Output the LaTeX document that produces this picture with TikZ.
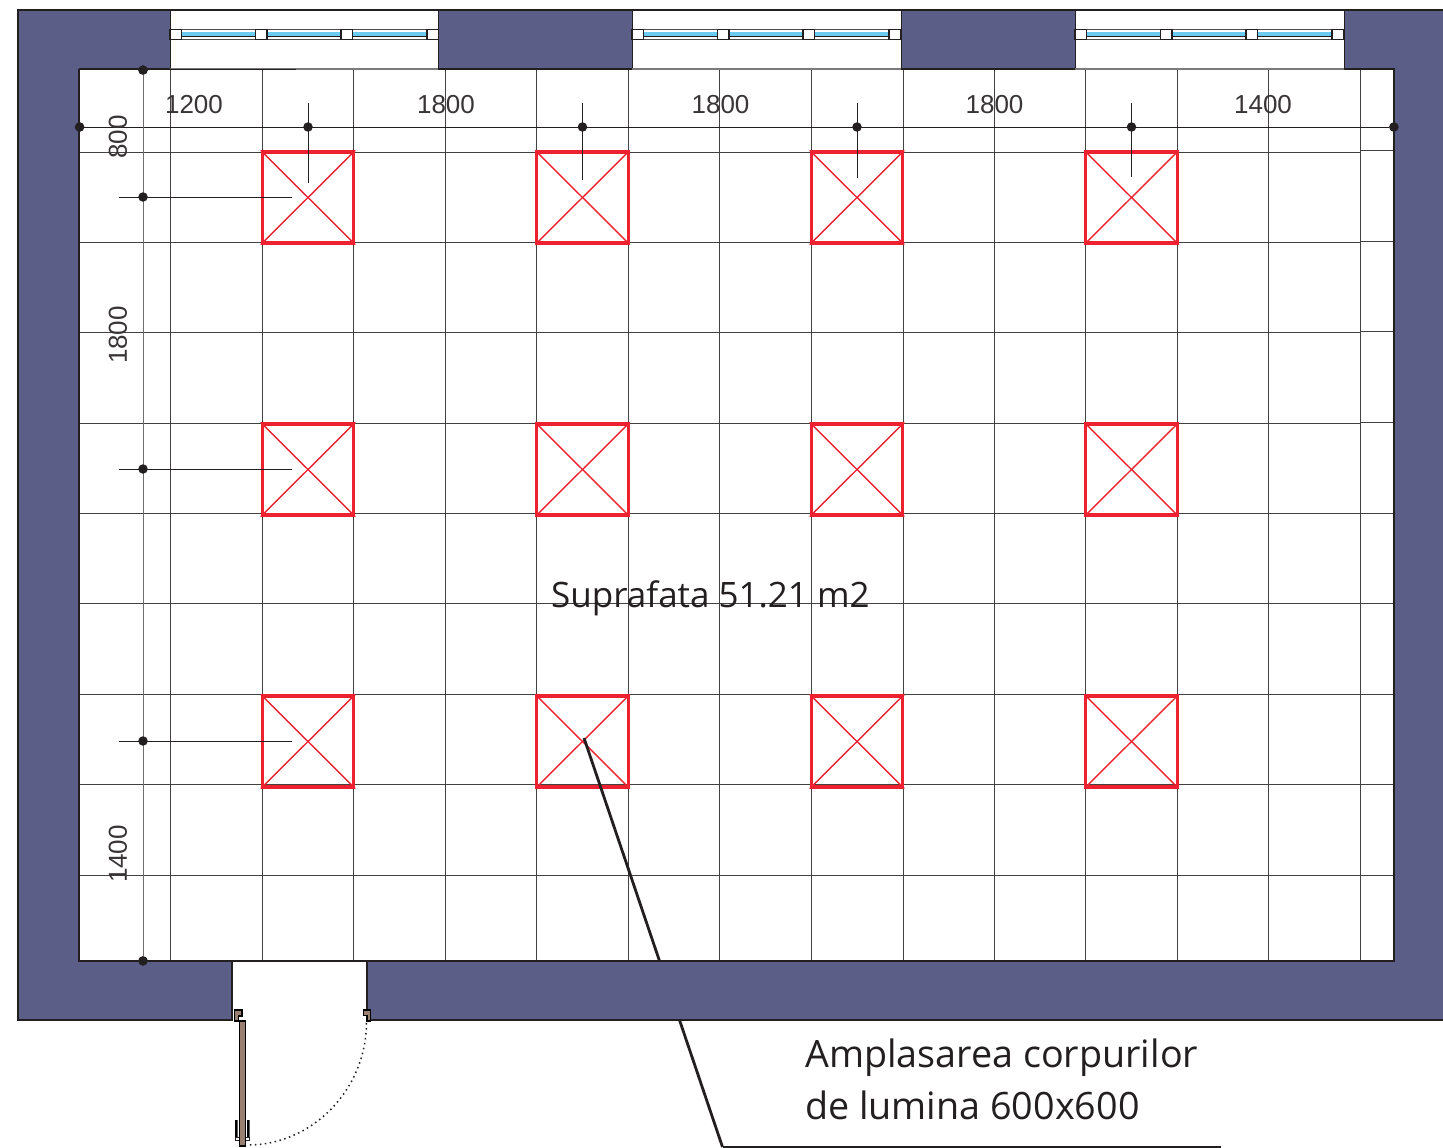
\documentclass[tikz,border=0pt]{standalone}
\usepackage{fontspec}
\setmainfont{Liberation Sans}
\newfontfamily\labelfont{Open Sans}
\definecolor{wallc}{HTML}{5B5F87}
\definecolor{lampc}{HTML}{EE2130}
\definecolor{inkc}{HTML}{231F20}
\definecolor{woodc}{HTML}{9A8070}
\definecolor{glassc}{HTML}{6CCBF0}
\tikzset{
  wall/.style={fill=wallc,draw=inkc,line width=1.3pt},
  gridline/.style={draw=inkc!85,line width=1pt},
  dimline/.style={draw=inkc,line width=1pt},
  dimdot/.style={circle,fill=inkc,inner sep=0pt,minimum size=9.5pt},
  dimtext/.style={text=inkc!90,font=\fontsize{26}{26}\selectfont,inner sep=0pt},
  suptext/.style={text=inkc,font=\labelfont\fontsize{35}{35}\selectfont,inner sep=0pt,anchor=west},
  bigtext/.style={text=inkc,font=\labelfont\fontsize{37.7}{38}\selectfont,inner sep=0pt,anchor=west},
  lampbox/.style={draw=lampc,line width=3.2pt,minimum width=91.5pt,minimum height=91pt,inner sep=0pt},
  lampx/.style={draw=lampc,line width=1.4pt},
  wood/.style={fill=woodc,draw=black,line width=1.4pt},
  pane/.style={fill=white,draw=inkc,line width=1.6pt}
}
\begin{document}
\begin{tikzpicture}[x=1pt,y=-1pt]
\useasboundingbox (0,0) rectangle (1443,1148);
\fill[white] (0,0) rectangle (1443,1148);
% grid
\foreach \g in {170.5,262,353.5,445,536.5,628,719.5,811,903,994,1085.5,1177,1268.5,1360}
  \draw[gridline] (\g,69) -- (\g,961);
\foreach \g/\h in {152/150.5,242.5/241,332.5/331.5,423/422.5,513.5/513,603.5/603.5,694/694,784.5/784,875/875.5}{
  \draw[gridline] (79,\g) -- (1360,\g);
  \draw[gridline] (1360,\h) -- (1394,\h);
}
% lamps
\foreach \c/\n in {308/a,582.5/b,857/c,1131.5/d}
  \foreach \r/\m in {197.5/1,469.5/2,741.5/3}{
    \node[lampbox] (lamp\n\m) at (\c,\r) {};
    \draw[lampx] (lamp\n\m.north west) -- (lamp\n\m.south east);
    \draw[lampx] (lamp\n\m.north east) -- (lamp\n\m.south west);
  }
% dimension lines
\node[dimdot] (dl) at (79.5,127) {};
\node[dimdot] (dr) at (1394,127) {};
\draw[dimline] (dl) -- (dr);
\node[dimdot] (vt) at (143,70) {};
\node[dimdot] (vb) at (143,961) {};
\draw[gridline,draw=inkc!65] (vt) -- (vb);
\coordinate (tt1) at (119,70); \coordinate (tt2) at (296,70);
\coordinate (bt1) at (119,961); \coordinate (bt2) at (176,961);
\foreach \r/\e/\n in {197/292/1,469/292/2,741/292/3}{
  \node[dimdot] (vd\n) at (143,\r) {};
  \coordinate (vs\n) at (119,\r); \coordinate (ve\n) at (\e,\r);
  \draw[dimline] (vs\n) -- (ve\n);
}
\foreach \c/\e/\n in {308/183/1,582.5/180/2,857/178/3,1131.5/177/4}{
  \node[dimdot] (hd\n) at (\c,127) {};
  \coordinate (hs\n) at (\c,103); \coordinate (he\n) at (\c,\e);
  \draw[dimline] (hs\n) -- (he\n);
}
% leader
\coordinate (lead0) at (584,738);
\coordinate (lead1) at (722.5,1147);
\coordinate (lead2) at (1221,1147);
\draw[draw=inkc,line width=2.8pt] (lead0) -- (lead1);
\draw[draw=inkc,line width=1.4pt] (lead1) -- (lead2);
% walls
\fill[wallc] (18,10) -- (170,10) -- (170,69) -- (79,69) -- (79,961) -- (232,961) -- (232,1020) -- (18,1020) -- cycle;
\fill[wallc] (438,10) rectangle (632,69);
\fill[wallc] (901,10) rectangle (1075,69);
\fill[wallc] (1443,10) -- (1344,10) -- (1344,69) -- (1394,69) -- (1394,961) -- (367,961) -- (367,1020) -- (1443,1020) -- cycle;
\draw[draw=inkc,line width=1.3pt] (170,10) -- (18,10) -- (18,1020) -- (232,1020) -- (232,961);
\draw[draw=inkc,line width=1.3pt] (170,10) -- (1443,10);
\draw[draw=inkc,line width=1.3pt] (79,69) -- (79,961) -- (1394,961) -- (1394,69) -- (1344,69);
\draw[draw=inkc,line width=1.3pt] (79,69) -- (170,69);
\draw[draw=inkc,line width=1.3pt] (367,961) -- (367,1020) -- (1443,1020);
\draw[draw=inkc,line width=1pt] (170,10) -- (170,69) (438,10) -- (438,69) (632,10) -- (632,69) (901,10) -- (901,69) (1075,10) -- (1075,69) (1344,10) -- (1344,69);
\draw[draw=inkc!60,line width=1.2pt] (170,69) -- (438,69) (632,69) -- (901,69) (1075,69) -- (1344,69);
\draw[draw=inkc,line width=1.1pt] (438,69) -- (632,69) (901,69) -- (1075,69);
\draw[dimline] (tt1) -- (tt2);
\draw[dimline] (bt1) -- (bt2);
% dots re-drawn over the wall edge
\node[dimdot] at (dl) {};
\node[dimdot] at (dr) {};
\node[dimdot] at (vt) {};
\node[dimdot] at (vb) {};
% windows
\foreach \w in {170,632,1075}{
  \begin{scope}[shift={(\w,0)}]
    \draw[draw=inkc!80,line width=1pt,fill=white] (5,30) rectangle (263,39.5);
    \fill[glassc] (5,32.5) rectangle (263,36.5);
    \draw[draw=inkc,line width=0.8pt] (5,36.8) -- (263,36.8);
    \foreach \s in {0,85.5,171,257}
      \draw[pane] (\s,29.5) rectangle (\s+11.5,39.5);
  \end{scope}
}
% door
\draw[wood] (234.5,1010) -- (242,1010) -- (242,1016) -- (238.5,1016) -- (238.5,1021) -- (234.5,1021) -- cycle;
\draw[wood] (363.5,1010) -- (370.5,1010) -- (370.5,1021) -- (367,1021) -- (367,1015.5) -- (363.5,1015.5) -- cycle;
\fill[black] (235,1120) rectangle (237.5,1140) (247,1120) rectangle (249.5,1140);
\draw[draw=inkc,line width=0.9pt,fill=white] (235.5,1137) rectangle (249.5,1140.5);
\draw[wood] (239.5,1021) rectangle (245.5,1146);
\draw[draw=inkc,line width=1.5pt,dash pattern=on 1.5pt off 3.5pt] (366.5,1023) .. controls (366,1090) and (312,1145) .. (248,1145);
% texts
\node[dimtext] (d1) at (194,105) {1200};
\node[dimtext] (d2) at (446,105) {1800};
\node[dimtext] (d3) at (720.5,105) {1800};
\node[dimtext] (d4) at (994.5,105) {1800};
\node[dimtext] (d5) at (1263,105) {1400};
\node[dimtext,rotate=90] (d6) at (118,137) {800};
\node[dimtext,rotate=90] (d7) at (118,335) {1800};
\node[dimtext,rotate=90] (d8) at (118,854) {1400};
\node[suptext] (area) at (551,598.5) {Suprafata 51.21 m2};
\node[bigtext] (note1) at (805,1057.5) {Amplasarea corpurilor};
\node[bigtext] (note2) at (805,1105) {de lumina 600x600};
\end{tikzpicture}
\end{document}
